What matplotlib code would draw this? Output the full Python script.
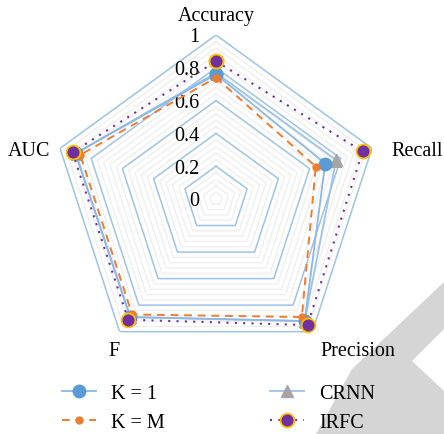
import numpy as np
import matplotlib
matplotlib.use("Agg")
import matplotlib.pyplot as plt
from matplotlib.patches import Polygon

plt.rcParams['font.family'] = ['Liberation Serif', 'DejaVu Serif']

# data
metrics = ['Accuracy', 'Recall', 'Precision', 'F', 'AUC']
k1 = [0.76, 0.70, 0.92, 0.89, 0.90]
km = [0.74, 0.64, 0.89, 0.87, 0.87]
crnn = [0.77, 0.77, 0.92, 0.89, 0.90]
irfc = [0.84, 0.94, 0.95, 0.91, 0.92]
r_ticks = [0, 0.2, 0.4, 0.6, 0.8, 1]

W, H = 444, 435
fig = plt.figure(figsize=(W / 100, H / 100), dpi=100)


def fx(px):
    return px / W


def fy(py):
    return 1 - py / H


# grey watermark in the lower right corner
wm = [(444, 283), (352, 370), (316, 435), (444, 435), (444, 392), (412, 362), (444, 330)]
fig.patches.append(Polygon([(fx(x), fy(y)) for x, y in wm], closed=True,
                           transform=fig.transFigure, facecolor='#d5d5d5',
                           edgecolor='none', zorder=0))

cx, cy, R = 216, 200, 164
ax = fig.add_axes([fx(cx - R), fy(cy + R), 2 * R / W, 2 * R / H], projection='polar')
ax.patch.set_visible(False)
ax.set_theta_offset(np.pi / 2)
ax.set_theta_direction(-1)
ax.spines['polar'].set_visible(False)
ax.grid(False)
ax.set_xticks([])
ax.set_yticks([])
ax.set_ylim(0, 1)

angles = np.linspace(0, 2 * np.pi, len(metrics), endpoint=False)
ang_c = np.append(angles, angles[0])


def closed(v):
    return np.append(v, v[0])


# minor grid pentagons
for lv in np.arange(0.04, 1.0, 0.04):
    if abs(lv / 0.2 - round(lv / 0.2)) < 1e-6:
        continue
    ax.plot(ang_c, [lv] * len(ang_c), color='#ececec', lw=0.8, zorder=1)
# major grid pentagons
for lv in r_ticks[1:]:
    ax.plot(ang_c, [lv] * len(ang_c), color='#9dc3e6', lw=1.1, zorder=2)

for t in r_ticks:
    ax.annotate(str(t), xy=(0, t), xytext=(-17, -2), textcoords='offset pixels',
                ha='right', va='center', fontsize=14.5)

l_crnn, = ax.plot(ang_c, closed(crnn), color='#9dc3e6', lw=1.3, marker='^',
                  markersize=8, markerfacecolor='#a5a5a5', markeredgecolor='#a5a5a5',
                  label='CRNN', zorder=3)
l_k1, = ax.plot(ang_c, closed(k1), color='#8db8e2', lw=1.3, marker='o',
                markersize=9, markerfacecolor='#5b9bd5', markeredgecolor='#5b9bd5',
                label='K = 1', zorder=4)
l_km, = ax.plot(ang_c, closed(km), color='#ed7d31', lw=1.4, ls=(0, (4, 3)), marker='o',
                markersize=5, markerfacecolor='#ed7d31', markeredgecolor='#ed7d31',
                label='K = M', zorder=5)
l_irfc, = ax.plot(ang_c, closed(irfc), color='#7030a0', lw=1.5, ls=(0, (1, 3)), marker='o',
                  markersize=10, markerfacecolor='#7030a0', markeredgecolor='#ffc000',
                  markeredgewidth=1.3, label='IRFC', zorder=6)

# axis labels
label_pos = [(216, 17), (417, 152), (358, 352), (114, 352), (29, 152)]
for name, (x, y) in zip(metrics, label_pos):
    fig.text(fx(x), fy(y), name, ha='center', va='center', fontsize=14.5)

fig.legend(handles=[l_k1, l_km, l_crnn, l_irfc], ncol=2, loc='upper left',
           bbox_to_anchor=(fx(62), fy(385)), frameon=False, fontsize=14.5,
           handlelength=1.7, handletextpad=0.75, columnspacing=5.2,
           labelspacing=0.5, borderpad=0, borderaxespad=0)

fig.savefig('out.png', dpi=100)
